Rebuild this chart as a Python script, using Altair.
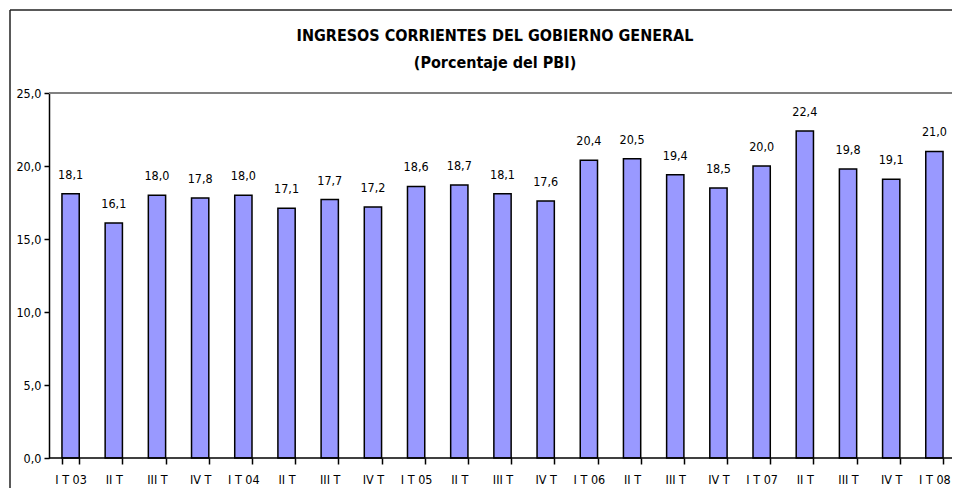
import altair as alt
import pandas as pd

categories = ["I T 03", "II T", "III T", "IV T", "I T 04", "II T", "III T", "IV T",
              "I T 05", "II T", "III T", "IV T", "I T 06", "II T", "III T", "IV T",
              "I T 07", "II T", "III T", "IV T", "I T 08"]
values = [18.1, 16.1, 18.0, 17.8, 18.0, 17.1, 17.7, 17.2, 18.6, 18.7, 18.1, 17.6,
          20.4, 20.5, 19.4, 18.5, 20.0, 22.4, 19.8, 19.1, 21.0]
y_ticks = [0, 5, 10, 15, 20, 25]
title_line1 = "INGRESOS CORRIENTES DEL GOBIERNO GENERAL"
title_line2 = "(Porcentaje del PBI)"

FONT = "DejaVu Sans Condensed, Liberation Sans Narrow, Arial Narrow, sans-serif"

df = pd.DataFrame({
    "idx": list(range(len(categories))),
    "cat": categories,
    "val": values,
})
df["lbl"] = [f"{v:.1f}".replace(".", ",") for v in values]

label_expr = "[" + ",".join(f"'{c}'" for c in categories) + "][datum.value]"

PW = 903          # drawn width inside the page
RANGE_W = 907     # category axis length

x_scale = alt.Scale(range=[0, RANGE_W], paddingInner=0.6, paddingOuter=0.3, align=0.5)
x_enc = alt.X("idx:O", title=None, scale=x_scale,
              axis=alt.Axis(labelExpr=label_expr, labelAngle=0, labelFont=FONT, labelFontSize=12.5,
                            labelColor="black", labelPadding=9, tickColor="black", tickSize=6,
                            tickBand="extent", domain=False, tickWidth=1.5))
y_enc = alt.Y("val:Q", title=None,
              scale=alt.Scale(domain=[0, 25], nice=False),
              axis=alt.Axis(values=y_ticks, labelExpr="replace(format(datum.value, '.1f'), '.', ',')",
                            labelFont=FONT, labelFontSize=12.5, labelColor="black", tickColor="black",
                            tickSize=5, tickWidth=1.5, domainColor="black", domainWidth=1.5,
                            grid=False, labelPadding=3))

bars = alt.Chart(df).mark_bar(color="#9999FF", stroke="black", strokeWidth=1.5).encode(x=x_enc, y=y_enc)

labels = alt.Chart(df).mark_text(font=FONT, fontSize=12.5, color="black", baseline="alphabetic", dy=-15).encode(
    x=alt.X("idx:O", scale=x_scale), y=alt.Y("val:Q"), text="lbl:N")

ref_df = pd.DataFrame({"v": [25], "z": [0]})
top_line = alt.Chart(ref_df).mark_rule(color="#808080", strokeWidth=2).encode(
    y=alt.Y("v:Q"), x=alt.value(0), x2=alt.value(PW))
base_line = alt.Chart(ref_df).mark_rule(color="black", strokeWidth=1.5).encode(
    y=alt.Y("z:Q"), x=alt.value(0), x2=alt.value(PW))

frame_df = pd.DataFrame({"k": [0]})
frame_left = alt.Chart(frame_df).mark_rule(color="#222222", strokeWidth=1.5).encode(
    x=alt.value(-39), y=alt.value(-83), y2=alt.value(395))
frame_top = alt.Chart(frame_df).mark_rule(color="#222222", strokeWidth=1.5).encode(
    y=alt.value(-83), x=alt.value(-39), x2=alt.value(PW))

title_df = pd.DataFrame({"t1": [title_line1], "t2": [title_line2]})
title1 = alt.Chart(title_df).mark_text(font=FONT, fontSize=16, fontWeight="bold", color="black",
                                       align="center", baseline="alphabetic").encode(
    text="t1:N", x=alt.value(446), y=alt.value(-52))
title2 = alt.Chart(title_df).mark_text(font=FONT, fontSize=16, fontWeight="bold", color="black",
                                       align="center", baseline="alphabetic").encode(
    text="t2:N", x=alt.value(446), y=alt.value(-25))

chart = alt.layer(frame_left, frame_top, top_line, bars, base_line, labels, title1, title2).properties(
    width=PW, height=365,
    autosize=alt.AutoSizeParams(type="none"),
    padding={"left": 41, "top": 85, "right": 0, "bottom": 30},
).configure_view(stroke=None)

chart.save("out.html", embed_options={"renderer": "svg", "actions": False})
